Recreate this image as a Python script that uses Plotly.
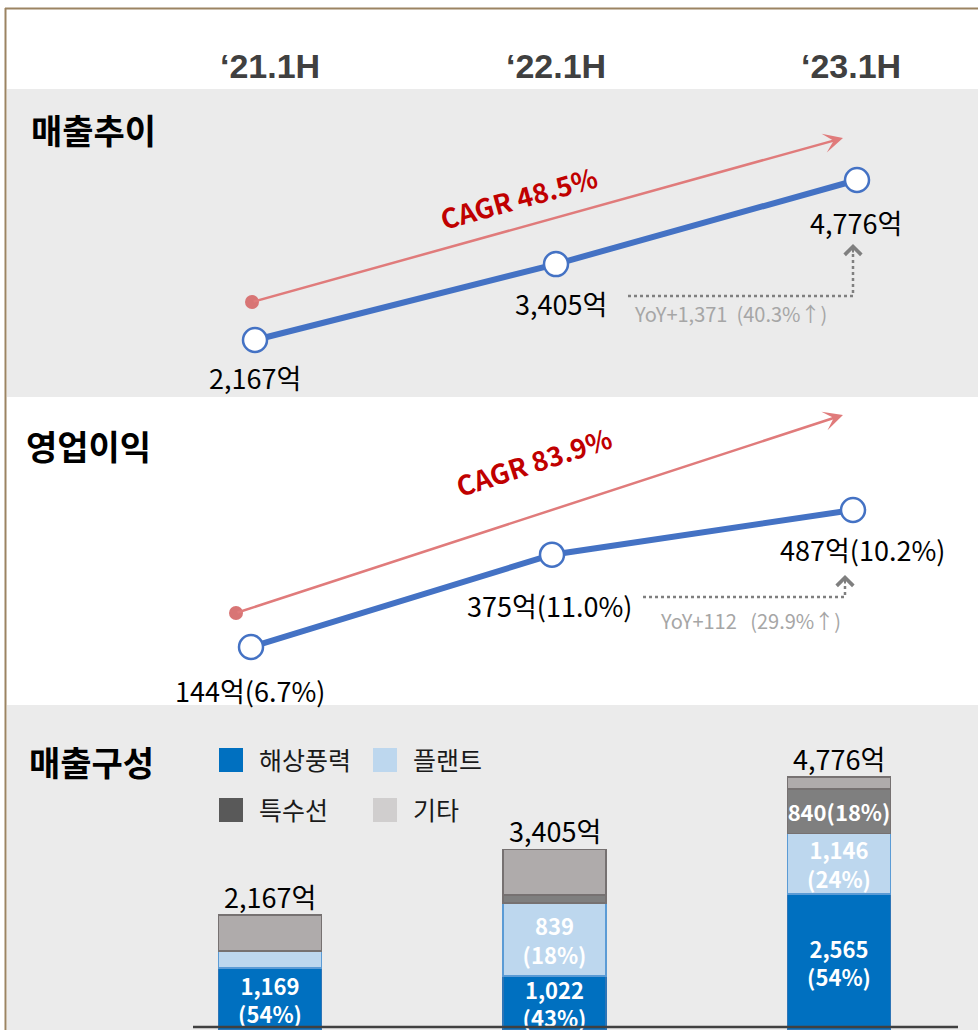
import plotly.graph_objects as go

# 데이터
PERIODS = ["‘21.1H", "‘22.1H", "‘23.1H"]
SALES = [2167, 3405, 4776]
OP_PROFIT = [144, 375, 487]
OP_MARGIN = [6.7, 11.0, 10.2]
SALES_CAGR = 48.5
OP_CAGR = 83.9
SALES_YOY = "YoY+1,371  (40.3%↑)"
OP_YOY = "YoY+112   (29.9%↑)"

SEGMENTS = ["해상풍력", "플랜트", "특수선", "기타"]
SEG_OFFSHORE = [1169, 1022, 2565]
SEG_PLANT = [320, 1380, 1146]      # 그림상 막대 높이
SEG_SPECIAL = [0, 150, 840]
SEG_OTHER = [678, 853, 225]
OFFSHORE_SHARE = [54, 43, 54]
PLANT_LABEL = [None, 839, 1146]
PLANT_SHARE = [None, 18, 24]
SPECIAL_LABEL = [None, None, 840]
SPECIAL_SHARE = [None, None, 18]

W, H = 978, 1030
KR = "Noto Sans CJK KR, Noto Sans, sans-serif"
BLUE = "#4472c4"
RED_LINE = "#e07b7b"
GRAY_BG = "#ebebeb"


def px(x):
    return x / W


def py(y):
    return 1 - y / H


def value_range(va, pa, vb, pb, top, bottom):
    k = (pa - pb) / (vb - va)
    return [va - (bottom - pa) / k, va + (pa - top) / k]


def index_range(p0, p2):
    s = (p2 - p0) / 2
    return [-p0 / s, (W - p0) / s], s


fig = go.Figure()

# 매출추이
fig.add_trace(go.Scatter(
    x=PERIODS, y=SALES, mode="lines+markers", xaxis="x", yaxis="y",
    line=dict(color=BLUE, width=6),
    marker=dict(size=24, color="white", line=dict(color=BLUE, width=2.5)),
    showlegend=False, hoverinfo="skip"))

# 영업이익
fig.add_trace(go.Scatter(
    x=PERIODS, y=OP_PROFIT, mode="lines+markers", xaxis="x2", yaxis="y2",
    line=dict(color=BLUE, width=6),
    marker=dict(size=24, color="white", line=dict(color=BLUE, width=2.5)),
    showlegend=False, hoverinfo="skip"))

# 매출구성 (누적 막대)
bar_colors = ["#0070c0", "#bdd7ee", "#7f7f7f", "#afabab"]
bar_lines = ["#2e75b6", "#5b9bd5", "#767171", "#767171"]
offshore_txt = [f"{v:,}<br>({s}%)" for v, s in zip(SEG_OFFSHORE, OFFSHORE_SHARE)]
plant_txt = [f"{v:,}<br>({s}%)" if v else "" for v, s in zip(PLANT_LABEL, PLANT_SHARE)]
special_txt = [f"{v:,}({s}%)" if v else "" for v, s in zip(SPECIAL_LABEL, SPECIAL_SHARE)]
other_txt = ["", "", ""]

_, bar_step = index_range(270, 839)
for name, vals, txt, c, lc in zip(SEGMENTS,
                                  [SEG_OFFSHORE, SEG_PLANT, SEG_SPECIAL, SEG_OTHER],
                                  [offshore_txt, plant_txt, special_txt, other_txt],
                                  bar_colors, bar_lines):
    fig.add_trace(go.Bar(
        x=PERIODS, y=vals, name=name, xaxis="x3", yaxis="y3",
        width=103 / bar_step, marker=dict(color=c, line=dict(color=lc, width=1.5)),
        text=txt, textposition="inside", insidetextanchor="middle", textangle=0,
        textfont=dict(family=KR, size=22, color="white", weight="bold"),
        showlegend=False, hoverinfo="skip"))

fig.update_layout(barmode="stack", uniformtext=dict(minsize=22, mode="show"))

# 축
xr1, _ = index_range(255, 857)
xr2, _ = index_range(251, 853)
xr3, _ = index_range(270, 839)
ax_common = dict(visible=False, showgrid=False, zeroline=False, fixedrange=True)
fig.update_layout(
    xaxis=dict(domain=[0, 1], range=xr1, type="category", anchor="y", **ax_common),
    yaxis=dict(domain=[py(397), py(89)], anchor="x",
               range=value_range(SALES[0], 340, SALES[2], 180, 89, 397), **ax_common),
    xaxis2=dict(domain=[0, 1], range=xr2, type="category", anchor="y2", **ax_common),
    yaxis2=dict(domain=[py(705), py(397)], anchor="x2",
                range=value_range(OP_PROFIT[0], 647, OP_PROFIT[2], 510, 397, 705), **ax_common),
    xaxis3=dict(domain=[0, 1], range=xr3, type="category", anchor="y3", **ax_common),
    yaxis3=dict(domain=[0, py(705)], anchor="x3",
                range=value_range(0, 1030, SALES[2], 777, 705, 1030), **ax_common),
)

shapes = []
ann = []

# 배경 패널, 테두리
shapes.append(dict(type="rect", xref="paper", yref="paper", x0=px(7), x1=1,
                   y0=py(397), y1=py(89), fillcolor=GRAY_BG, line_width=0, layer="below"))
shapes.append(dict(type="rect", xref="paper", yref="paper", x0=px(7), x1=1,
                   y0=0, y1=py(705), fillcolor=GRAY_BG, line_width=0, layer="below"))
shapes.append(dict(type="line", xref="paper", yref="paper", x0=px(5.5), x1=px(5.5),
                   y0=0, y1=py(8), line=dict(color="#9b8462", width=2)))
shapes.append(dict(type="line", xref="paper", yref="paper", x0=px(5), x1=1,
                   y0=py(8.5), y1=py(8.5), line=dict(color="#9b8462", width=2)))

# 기준선
shapes.append(dict(type="line", xref="paper", yref="paper", x0=px(193), x1=px(958),
                   y0=py(1027), y1=py(1027), line=dict(color="#404040", width=2.5)))

# 기간 헤더
for label, xc in zip(PERIODS, [270, 556, 851]):
    ann.append(dict(x=px(xc), y=py(66), xref="paper", yref="paper", text=label,
                    showarrow=False, xanchor="center", yanchor="middle",
                    font=dict(family="Liberation Sans, Arial, sans-serif", size=34,
                              color="#404040", weight="bold")))

# 섹션 제목
for title, x0, yc in [("매출추이", 29, 129), ("영업이익", 24, 445), ("매출구성", 27, 761)]:
    ann.append(dict(x=px(x0), y=py(yc), xref="paper", yref="paper", text=title,
                    showarrow=False, xanchor="left", yanchor="middle",
                    font=dict(family=KR, size=34, color="black", weight="bold")))

# 값 라벨 (선 그래프)
for p, v, (dx, dy) in zip(PERIODS, SALES, [(0, -37), (5, -39), (-1, -42)]):
    ann.append(dict(x=p, y=v, xref="x", yref="y", text=f"{v:,}억", showarrow=False,
                    xshift=dx, yshift=dy, font=dict(family=KR, size=27, color="black")))
for p, v, m, (dx, dy) in zip(PERIODS, OP_PROFIT, OP_MARGIN, [(-1, -43), (-3, -51), (9, -39)]):
    ann.append(dict(x=p, y=v, xref="x2", yref="y2", text=f"{v}억({m:.1f}%)", showarrow=False,
                    xshift=dx, yshift=dy, font=dict(family=KR, size=27, color="black")))

# 막대 합계
for p, v in zip(PERIODS, SALES):
    ann.append(dict(x=p, y=v, xref="x3", yref="y3", text=f"{v:,}억", showarrow=False,
                    yshift=19, yanchor="middle", font=dict(family=KR, size=27, color="black")))

# CAGR 화살표
for (hx, hy, tx, ty), cagr, (cx, cy, ang) in [
        ((843, 138, 252, 302), SALES_CAGR, (518, 197, -15.5)),
        ((843, 415, 236, 613), OP_CAGR, (533, 461, -18))]:
    ann.append(dict(x=px(hx), y=py(hy), xref="paper", yref="paper", text="",
                    showarrow=True, ax=tx - hx, ay=ty - hy, arrowhead=3, arrowsize=1.3,
                    arrowwidth=2.5, arrowcolor=RED_LINE, standoff=0))
    shapes.append(dict(type="circle", xref="paper", yref="paper",
                       x0=px(tx - 7), x1=px(tx + 7), y0=py(ty + 7), y1=py(ty - 7),
                       fillcolor="#d87575", line_width=0))
    ann.append(dict(x=px(cx), y=py(cy), xref="paper", yref="paper", text=f"CAGR {cagr}%",
                    showarrow=False, textangle=ang, xanchor="center", yanchor="middle",
                    font=dict(family=KR, size=27, color="#c00000", weight="bold")))

# YoY 점선
for (x0, x1, yh, ytop), txt, (tx, ty) in [
        ((628, 853, 296, 252), SALES_YOY, (730, 313)),
        ((643, 845, 597, 583), OP_YOY, (750, 620))]:
    shapes.append(dict(type="path", xref="paper", yref="paper",
                       path=f"M {px(x0)} {py(yh)} L {px(x1)} {py(yh)} L {px(x1)} {py(ytop)}",
                       line=dict(color="#7f7f7f", width=2.5, dash="dot")))
    ann.append(dict(x=px(x1), y=py(ytop - 8), xref="paper", yref="paper", text="",
                    showarrow=True, ax=0, ay=10, arrowhead=4, arrowsize=1.6,
                    arrowwidth=2, arrowcolor="#7f7f7f", standoff=0))
    ann.append(dict(x=px(tx), y=py(ty), xref="paper", yref="paper", text=txt,
                    showarrow=False, xanchor="center", yanchor="middle",
                    font=dict(family=KR, size=20, color="#a6a6a6")))

# 범례
legend_colors = ["#0070c0", "#bdd7ee", "#595959", "#d0cece"]
legend_pos = [(219, 760), (373, 760), (219, 810), (373, 810)]
for name, c, (lx, ly) in zip(SEGMENTS, legend_colors, legend_pos):
    shapes.append(dict(type="rect", xref="paper", yref="paper",
                       x0=px(lx), x1=px(lx + 24), y0=py(ly + 12), y1=py(ly - 12),
                       fillcolor=c, line_width=0))
    ann.append(dict(x=px(lx + 38), y=py(ly - 1), xref="paper", yref="paper", text=name,
                    showarrow=False, xanchor="left", yanchor="middle",
                    font=dict(family=KR, size=25, color="#1a1a1a")))

fig.update_layout(
    width=W, height=H, autosize=False,
    margin=dict(l=0, r=0, t=0, b=0),
    paper_bgcolor="white", plot_bgcolor="rgba(0,0,0,0)",
    shapes=shapes, annotations=ann,
    font=dict(family=KR),
)

fig.write_html("out.html", config={"displayModeBar": False},
               post_script="document.body.style.margin='0';")
